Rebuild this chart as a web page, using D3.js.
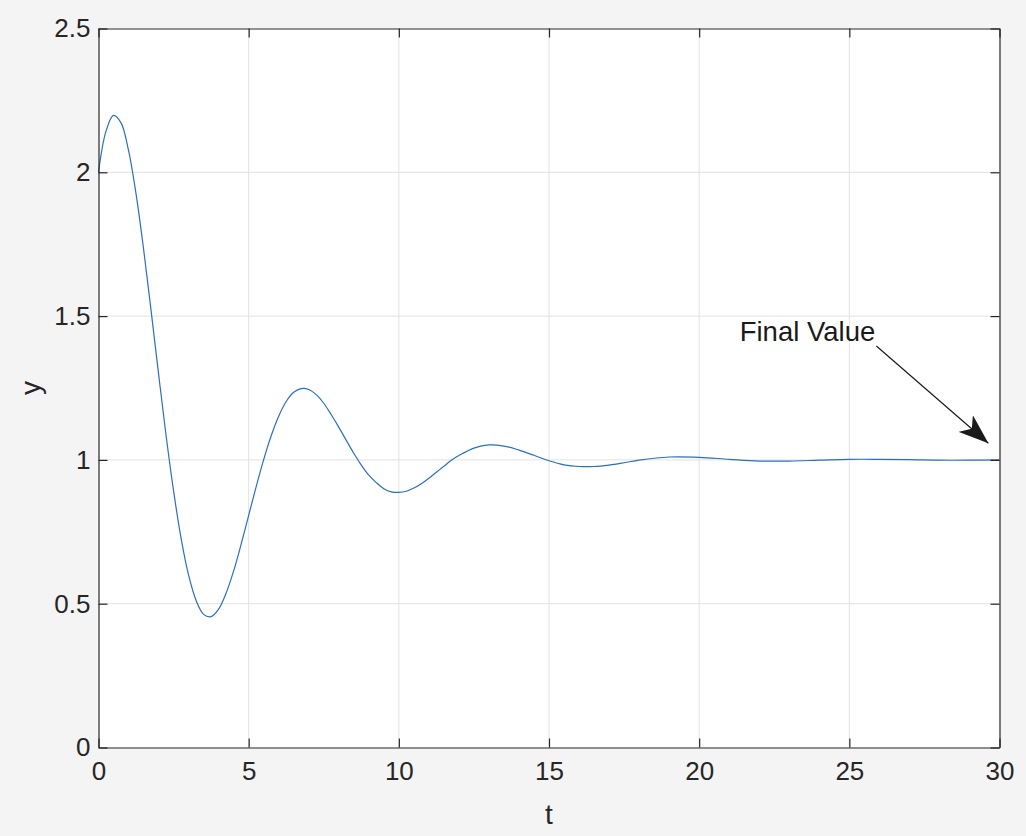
<!DOCTYPE html>
<html><head><meta charset="utf-8">
<script src="https://cdn.jsdelivr.net/npm/d3@7"></script>
<style>
html,body{margin:0;padding:0;background:#f4f4f4;}
svg{display:block;font-family:"Liberation Sans",Arial,Helvetica,sans-serif;}
</style></head>
<body>
<svg id="chart" width="1026" height="836"></svg>
<script>
// data (t, y)
const tValues = [0,0.25,0.5,0.75,1,1.25,1.5,1.75,2,2.25,2.5,2.75,3,3.25,3.5,3.75,4,4.25,4.5,4.75,5,5.25,5.5,5.75,6,6.25,6.5,6.75,7,7.25,7.5,7.75,8,8.25,8.5,8.75,9,9.25,9.5,9.75,10,10.25,10.5,10.75,11,11.25,11.5,11.75,12,12.5,13,13.5,14,14.5,15,15.5,16,16.5,17,17.5,18,19,20,21,22,23,24,25,26,27,28,29,30];
const yValues = [2.000,2.143,2.198,2.172,2.076,1.925,1.734,1.520,1.299,1.085,0.892,0.727,0.599,0.511,0.463,0.455,0.481,0.537,0.614,0.707,0.807,0.907,1.001,1.084,1.152,1.203,1.235,1.248,1.245,1.227,1.197,1.157,1.114,1.068,1.023,0.982,0.947,0.921,0.900,0.889,0.887,0.891,0.902,0.917,0.936,0.957,0.978,0.999,1.015,1.041,1.052,1.048,1.034,1.016,0.997,0.983,0.977,0.977,0.982,0.990,0.999,1.010,1.009,1.002,0.996,0.996,0.999,1.002,1.002,1.001,0.999,0.999,1.000];
const xTicks = [0,5,10,15,20,25,30];
const yTicks = [0,0.5,1,1.5,2,2.5];
const xTickLabels = ["0","5","10","15","20","25","30"];
const yTickLabels = ["0","0.5","1","1.5","2","2.5"];
const xLabel = "t", yLabel = "y";
const annotationText = "Final Value";
const arrowFrom = [25.9, 1.396];
const arrowTo = [29.63, 1.058];
const textPos = [21.35, 1.415];

const svg = d3.select("#chart");
const L = 98.5, R = 999.5, T = 28.5, B = 747.5;
const x = d3.scaleLinear().domain([0,30]).range([L,R]);
const y = d3.scaleLinear().domain([0,2.5]).range([B,T]);
const axisCol = "#262626";

svg.append("rect").attr("x",L).attr("y",T).attr("width",R-L).attr("height",B-T).attr("fill","#fff");

// grid
const grid = svg.append("g").attr("stroke","#e2e2e2").attr("stroke-width",1);
xTicks.slice(1,-1).forEach(v=>grid.append("line").attr("x1",x(v)).attr("x2",x(v)).attr("y1",T).attr("y2",B));
yTicks.slice(1,-1).forEach(v=>grid.append("line").attr("y1",y(v)).attr("y2",y(v)).attr("x1",L).attr("x2",R));

// curve
const pts = tValues.map((t,i)=>[t,yValues[i]]);
svg.append("path").datum(pts)
  .attr("d", d3.line().x(d=>x(d[0])).y(d=>y(d[1])).curve(d3.curveCatmullRom.alpha(0.5)))
  .attr("fill","none").attr("stroke","#2a6fbf").attr("stroke-width",1.2);

// axes with inward ticks
const tl = 9;
const fs = 26;
const ax = svg.append("g").attr("transform",`translate(0,${B})`)
  .call(d3.axisBottom(x).tickValues(xTicks).tickFormat((d,i)=>xTickLabels[i]).tickSizeInner(-tl).tickSizeOuter(0).tickPadding(tl+5));
const ay = svg.append("g").attr("transform",`translate(${L},0)`)
  .call(d3.axisLeft(y).tickValues(yTicks).tickFormat((d,i)=>yTickLabels[i]).tickSizeInner(-tl).tickSizeOuter(0).tickPadding(5));
const at = svg.append("g").attr("transform",`translate(0,${T})`)
  .call(d3.axisTop(x).tickValues(xTicks).tickFormat("").tickSizeInner(-tl).tickSizeOuter(0));
const ar = svg.append("g").attr("transform",`translate(${R},0)`)
  .call(d3.axisRight(y).tickValues(yTicks).tickFormat("").tickSizeInner(-tl).tickSizeOuter(0));
[ax,ay,at,ar].forEach(g=>{
  g.select(".domain").attr("stroke",axisCol).attr("stroke-width",1.2);
  g.selectAll(".tick line").attr("stroke",axisCol).attr("stroke-width",1.2);
  g.selectAll(".tick text").attr("fill",axisCol).attr("font-size",fs).attr("font-family","Liberation Sans, Arial, sans-serif");
});
ay.selectAll(".tick text").attr("dx","-0.12em");

// axis labels
svg.append("text").attr("x",(L+R)/2).attr("y",824).attr("text-anchor","middle")
  .attr("font-size",28).attr("fill",axisCol).text(xLabel);
svg.append("text").attr("transform",`translate(40,${(T+B)/2}) rotate(-90)`).attr("text-anchor","middle")
  .attr("font-size",28).attr("fill",axisCol).text(yLabel);

// annotation
svg.append("defs").append("marker").attr("id","ah").attr("viewBox","0 0 30 22")
  .attr("refX",30).attr("refY",11).attr("markerWidth",30).attr("markerHeight",22)
  .attr("markerUnits","userSpaceOnUse").attr("orient","auto")
  .append("path").attr("d","M0,0 L30,11 L0,22 L8,11 Z").attr("fill","#1a1a1a");
svg.append("line").attr("x1",x(arrowFrom[0])).attr("y1",y(arrowFrom[1]))
  .attr("x2",x(arrowTo[0])).attr("y2",y(arrowTo[1]))
  .attr("stroke","#1a1a1a").attr("stroke-width",1.2).attr("marker-end","url(#ah)");
svg.append("text").attr("x",x(textPos[0])).attr("y",y(textPos[1]))
  .attr("font-size",27.5).attr("fill","#1a1a1a").text(annotationText);
</script>
</body></html>
